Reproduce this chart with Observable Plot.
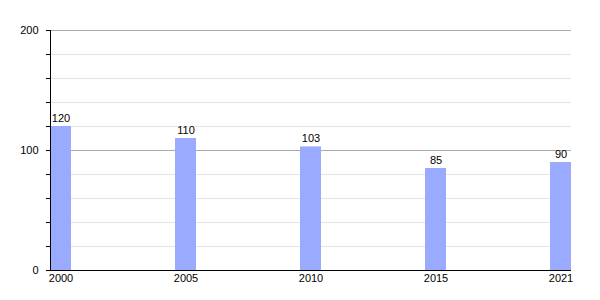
<!DOCTYPE html>
<html>
<head>
<meta charset="utf-8">
<script src="https://cdn.jsdelivr.net/npm/d3@7"></script>
<script src="https://cdn.jsdelivr.net/npm/@observablehq/plot@0.6"></script>
<style>
body{margin:0;background:#fff;}
</style>
</head>
<body>
<div id="chart"></div>
<script>
const years = ["2000","2005","2010","2015","2021"];
const values = [120,110,103,85,90];
const minorTicks = [20,40,60,80,120,140,160,180];
const majorTicks = [100,200];
const yTicks = [0,20,40,60,80,100,120,140,160,180,200];
const data = years.map((y,i)=>({year:y, value:values[i]}));

const chart = Plot.plot({
  width: 600,
  height: 300,
  marginLeft: 50,
  marginRight: 29,
  marginTop: 30,
  marginBottom: 30,
  style: {fontFamily: "Liberation Sans, Arial, sans-serif", fontSize: "11px", color: "#000", background: "#fff"},
  x: {domain: years, paddingInner: 0.832, paddingOuter: 0, align: 0.5, label: null},
  y: {domain: [0,200], label: null},
  marks: [
    Plot.ruleY(minorTicks, {stroke: "#e4e4e4", strokeWidth: 1}),
    Plot.ruleY(majorTicks, {stroke: "#aaaaaa", strokeWidth: 1}),
    Plot.barY(data, {x: "year", y: "value", fill: "#99aaff"}),
    Plot.text(data, {x: "year", y: "value", text: d => String(d.value), lineAnchor: "bottom", dy: -5, fill: "#000", fontSize: 11}),
    Plot.axisY({ticks: yTicks, tickSize: 4, tickPadding: 8, tickFormat: d => (d % 100 === 0 ? String(d) : ""), stroke: "#000", fontSize: 11}),
    Plot.axisX({tickSize: 0, tickPadding: 4, fontSize: 11}),
    Plot.frame({anchor: "left", stroke: "#000"}),
    Plot.ruleY([0], {stroke: "#000", strokeWidth: 1.2})
  ]
});
document.getElementById("chart").appendChild(chart);
</script>
</body>
</html>
